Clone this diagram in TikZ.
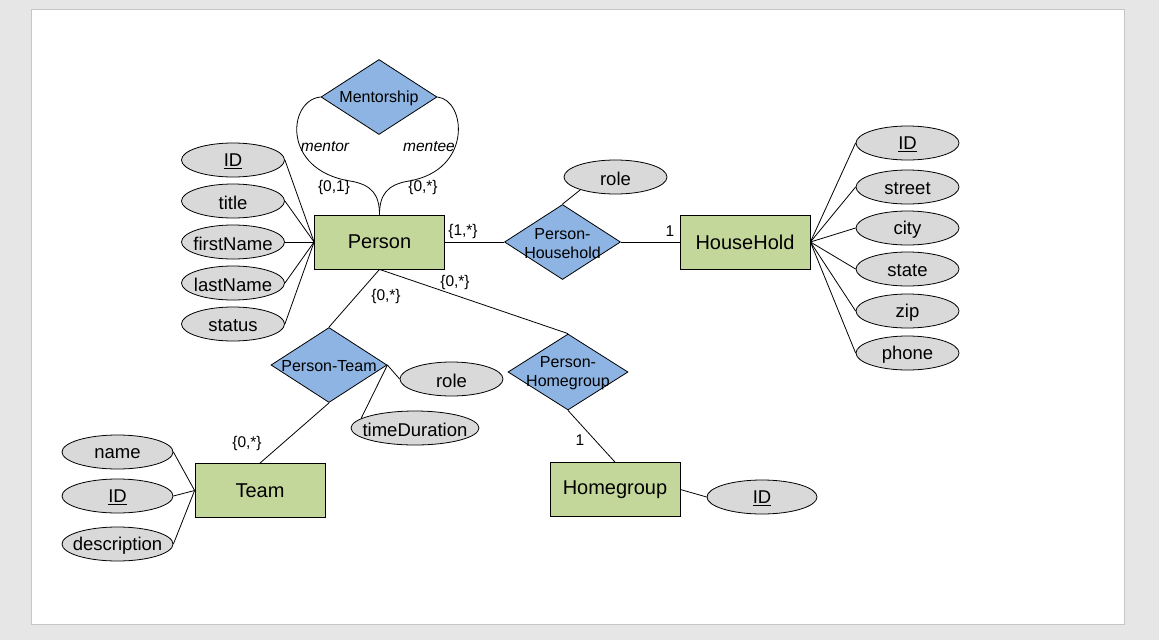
\documentclass[tikz,border=0pt]{standalone}
\usepackage{fontspec}
\setmainfont{Liberation Sans}
\usetikzlibrary{shapes.geometric}
\definecolor{canvas}{HTML}{E6E6E6}
\definecolor{pageedge}{HTML}{C6C6C6}
\definecolor{entityfill}{HTML}{C4D79B}
\definecolor{relfill}{HTML}{8DB4E2}
\definecolor{attrfill}{HTML}{D9D9D9}
\tikzset{
  conn/.style={draw=black, line width=0.8pt},
  entity/.style={rectangle, draw=black, line width=0.8pt, fill=entityfill,
    minimum width=130pt, minimum height=54pt, inner sep=0pt,
    font=\fontsize{20}{24}\selectfont},
  rel/.style={diamond, draw=black, line width=0.8pt, fill=relfill,
    minimum width=116pt, minimum height=75pt, inner sep=0pt,
    label={[font=\fontsize{16}{19}\selectfont, align=center, inner sep=0pt, yshift=-1.5pt]center:#1}},
  attr/.style={ellipse, draw=black, line width=0.8pt, fill=attrfill,
    minimum width=103pt, minimum height=34pt, inner sep=0pt,
    label={[font=\fontsize{18.5}{22}\selectfont, inner sep=0pt, yshift=-1.5pt]center:#1}},
  card/.style={font=\fontsize{15.5}{19}\selectfont, inner sep=0pt},
  role/.style={font=\fontsize{15.5}{19}\selectfont\itshape, inner sep=0pt},
}
\begin{document}
\begin{tikzpicture}[x=1pt, y=-1pt]
  % canvas and page
  \fill[canvas] (0,0) rectangle (1159,640);
  \useasboundingbox (0,0) rectangle (1159,640);
  \draw[pageedge, fill=white, line width=0.8pt] (31,9) rectangle (1124,624);

  % entities
  \node[entity] (person) at (379.5,242) {Person};
  \node[entity] (house) at (745,242) {HouseHold};
  \node[entity] (team) at (260,490.5) {Team};
  \node[entity] (hgroup) at (615,489.5) {Homegroup};

  % relationships
  \node[rel={Mentorship}] (ment) at (379,97) {};
  \node[rel={Person-\\Household}] (phh) at (562.5,242) {};
  \node[rel={Person-Team}] (pteam) at (329,365) {};
  \node[rel={Person-\\Homegroup}, minimum width=120pt, minimum height=76pt] (phg) at (568,372) {};

  % attributes of Person
  \node[attr={\underline{ID}}] (pid) at (233,160) {};
  \node[attr={title}] (ptitle) at (233,201) {};
  \node[attr={firstName}] (pfirst) at (233,242) {};
  \node[attr={lastName}] (plast) at (233,283) {};
  \node[attr={status}] (pstatus) at (233,324) {};

  % attributes of HouseHold
  \node[attr={\underline{ID}}] (hid) at (907.5,143) {};
  \node[attr={street}] (hstreet) at (907.5,187) {};
  \node[attr={city}] (hcity) at (907.5,228) {};
  \node[attr={state}] (hstate) at (907.5,269) {};
  \node[attr={zip}] (hzip) at (907.5,311) {};
  \node[attr={phone}] (hphone) at (907.5,353) {};

  % attributes of relationships
  \node[attr={role}] (phhrole) at (615.5,177) {};
  \node[attr={role}] (ptrole) at (451.5,379) {};
  \node[attr={timeDuration}, minimum width=128pt] (ptdur) at (415,428) {};

  % attributes of Team
  \node[attr={name}, minimum width=111pt] (tname) at (117.5,452) {};
  \node[attr={\underline{ID}}, minimum width=111pt] (tid) at (117.5,496) {};
  \node[attr={description}, minimum width=111pt] (tdesc) at (117.5,544) {};

  % attribute of Homegroup
  \node[attr={\underline{ID}}, minimum width=110pt] (gid) at (762,497) {};

  % attribute links
  \foreach \a in {pid,ptitle,pfirst,plast,pstatus}
    \draw[conn] (\a.east) -- (person.west);
  \foreach \a in {hid,hstreet,hcity,hstate,hzip,hphone}
    \draw[conn] (house.east) -- (\a.west);
  \foreach \a in {tname,tid,tdesc}
    \draw[conn] (\a.east) -- (team.west);
  \draw[conn] (hgroup.east) -- (gid.west);
  \draw[conn] (phh.north) -- (phhrole.200);
  \draw[conn] (pteam.east) -- (ptrole.west);
  \draw[conn] (pteam.east) -- (ptdur.170);

  % relationship links
  \draw[conn] (person.east) -- (phh.west);
  \draw[conn] (phh.east) -- (house.west);
  \draw[conn] (person.south) -- (pteam.north);
  \draw[conn] (pteam.south) -- (team.north);
  \draw[conn] (person.south) -- (phg.north);
  \draw[conn] (phg.south) -- (hgroup.north);

  % recursive Mentorship links
  \draw[conn] (ment.west) .. controls (288,100) and (281,170) .. (350,181)
    .. controls (372,184.5) and (379.5,195) .. (person.north);
  \draw[conn] (ment.east) .. controls (466,100) and (473,170) .. (409,181)
    .. controls (387,184.5) and (379.5,195) .. (person.north);

  % role names and cardinalities
  \node[role] (rmentor) at (325,147) {mentor};
  \node[role] (rmentee) at (429,147) {mentee};
  \node[card] (c1) at (334,187) {\{0,1\}};
  \node[card] (c2) at (423,187) {\{0,*\}};
  \node[card] (c3) at (463,231) {\{1,*\}};
  \node[card] (c4) at (670,231) {1};
  \node[card] (c5) at (386,296) {\{0,*\}};
  \node[card] (c6) at (455,282) {\{0,*\}};
  \node[card] (c7) at (247,443) {\{0,*\}};
  \node[card] (c8) at (580,440) {1};
\end{tikzpicture}
\end{document}
